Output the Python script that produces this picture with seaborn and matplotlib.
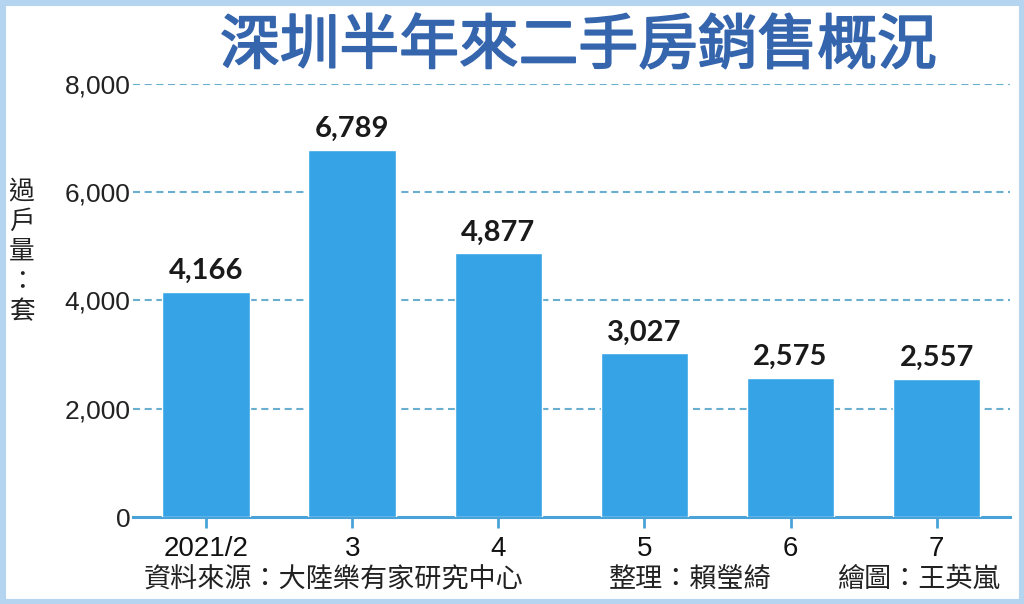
import matplotlib
matplotlib.use("Agg")
import matplotlib.pyplot as plt
import matplotlib.patheffects as pe
import seaborn as sns
import pandas as pd
from matplotlib.patches import Rectangle

months = ["2021/2", "3", "4", "5", "6", "7"]
sales = [4166, 6789, 4877, 3027, 2575, 2557]
yticks = [0, 2000, 4000, 6000, 8000]
title = "深圳半年來二手房銷售概況"
ylabel = "過\n戶\n量\n：\n套"
source = "資料來源：大陸樂有家研究中心"
editor = "整理：賴瑩綺"
artist = "繪圖：王英嵐"

sns.set_theme(style="white")
plt.rcParams['font.family'] = ['Noto Sans CJK TC', 'DejaVu Sans']

df = pd.DataFrame({"month": months, "sales": sales})

fig = plt.figure(figsize=(10.24, 6.04), dpi=100)
ax = fig.add_axes([0.130, 0.144, 0.856, 0.717])

sns.barplot(data=df, x="month", y="sales", color="#36a3e6", saturation=1,
            width=0.6, ax=ax, zorder=3)

num_font = ['Liberation Sans', 'DejaVu Sans']
ax.set_xlim(-0.5, 5.5)
ax.set_ylim(0, 8000)
ax.set_yticks(yticks)
ax.set_yticklabels([f"{v:,}" for v in yticks], fontsize=19, family=num_font, color="#222222")
ax.set_xticks(range(len(months)))
ax.set_xticklabels(months, fontsize=20, family=num_font, color="#111111")
ax.set_xlabel("")
ax.set_ylabel("")

for y in yticks[1:]:
    ax.axhline(y, color="#6aaed0", lw=1.5, ls=(0, (3.4, 2.2)), zorder=1)

for s in ["top", "right", "left"]:
    ax.spines[s].set_visible(False)
ax.spines["bottom"].set_color("#4aa3d8")
ax.spines["bottom"].set_linewidth(2.2)
ax.tick_params(axis="x", length=8, width=2, color="#4aa3d8", pad=6, bottom=True)
ax.tick_params(axis="y", length=0, pad=2)

for i, v in enumerate(sales):
    ax.text(i, v + 140, f"{v:,}", ha="center", va="bottom", fontsize=21,
            fontweight="bold", family=['Lato', 'DejaVu Sans'], color="#1a1a1a")

fig.text(0.565, 0.922, title, ha="center", va="center", fontsize=43,
         color="#3565ac",
         path_effects=[pe.withStroke(linewidth=1.3, foreground="#3565ac")])
fig.text(0.021, 0.583, ylabel, ha="center", va="center", fontsize=18.5,
         color="#222222", linespacing=1.2)
fig.text(0.140, 0.040, source, ha="left", va="center", fontsize=19.5, color="#222222")
fig.text(0.595, 0.040, editor, ha="left", va="center", fontsize=19.5, color="#222222")
fig.text(0.817, 0.040, artist, ha="left", va="center", fontsize=19.5, color="#222222")

fig.patches.append(Rectangle((0, 0), 1, 1, transform=fig.transFigure,
                             fill=False, edgecolor="#b5d4ef", lw=8, zorder=10))

fig.savefig("out.png", dpi=100)
